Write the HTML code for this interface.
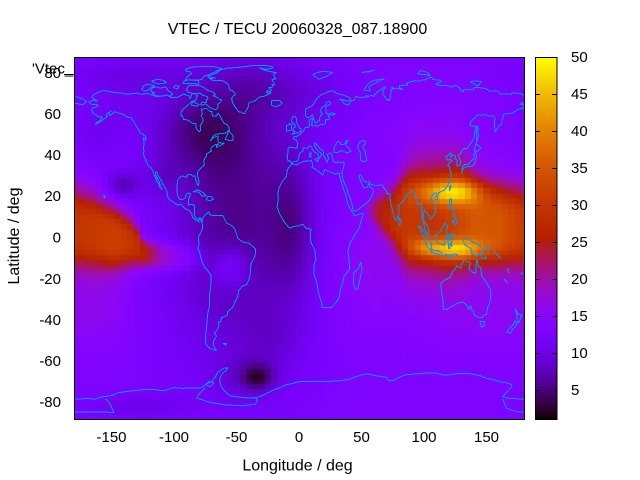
<!DOCTYPE html>
<html>
<head>
<meta charset="utf-8">
<style>
html,body{margin:0;padding:0;background:#fff;}
#wrap{position:relative;width:640px;height:480px;overflow:hidden;background:#fff;}
#c{position:absolute;left:74px;top:57px;background:rgb(110,1,235);}
svg{position:absolute;left:0;top:0;}
.cl polyline{vector-effect:non-scaling-stroke;}
text{font-family:"Liberation Sans",Arial,sans-serif;fill:#000;}
</style>
</head>
<body>
<div id="wrap">
<canvas id="c" width="451" height="363"></canvas>
<svg width="640" height="480" viewBox="0 0 640 480" xmlns="http://www.w3.org/2000/svg">
<defs>
<clipPath id="pc"><rect x="74" y="57" width="451" height="363"/></clipPath>
<linearGradient id="cb" x1="0" y1="1" x2="0" y2="0">
<stop offset="0" stop-color="rgb(0,0,0)"/>
<stop offset="0.01" stop-color="rgb(26,0,16)"/>
<stop offset="0.025" stop-color="rgb(40,0,40)"/>
<stop offset="0.05" stop-color="rgb(57,0,79)"/>
<stop offset="0.1" stop-color="rgb(81,0,150)"/>
<stop offset="0.15" stop-color="rgb(99,1,206)"/>
<stop offset="0.2" stop-color="rgb(114,2,243)"/>
<stop offset="0.25" stop-color="rgb(128,4,255)"/>
<stop offset="0.3" stop-color="rgb(140,7,243)"/>
<stop offset="0.35" stop-color="rgb(151,11,206)"/>
<stop offset="0.4" stop-color="rgb(161,16,150)"/>
<stop offset="0.45" stop-color="rgb(171,23,79)"/>
<stop offset="0.5" stop-color="rgb(180,32,0)"/>
<stop offset="0.6" stop-color="rgb(198,55,0)"/>
<stop offset="0.7" stop-color="rgb(213,87,0)"/>
<stop offset="0.8" stop-color="rgb(228,131,0)"/>
<stop offset="0.9" stop-color="rgb(242,186,0)"/>
<stop offset="1" stop-color="rgb(255,255,0)"/>
</linearGradient>
</defs>

<g clip-path="url(#pc)">
<g class="cl" transform="translate(299 237.3) scale(1.25 -2.06)" fill="none" stroke="rgb(0,150,255)" stroke-width="1" stroke-linejoin="round" shape-rendering="crispEdges">
<polyline points="-166,68.3 -163.7,69.4 -161,70.3 -156.6,71.3 -152,70.8 -148,70.3 -143,70.1 -139,69.6 -134.4,69.6 -130,70 -126,69.4 -121.5,69.8 -117,68.9 -114,68.3 -108,68.6 -106,69.2 -102,67.8 -98,67.8 -96,68.2 -94,69 -92,69.5 -88,68.6 -87,67.3 -85.5,69.9 -82.5,69.5 -81.3,68.7 -82,67.5 -83,66.2 -86,66 -87,65.2 -89,64 -92.5,62.2 -94.3,60.9 -94.6,58.9 -93.2,58.8 -92.3,57.2 -90.9,57.3 -88.1,56.5 -85,55.3 -82.3,55.1 -82.3,53.3 -81.4,52.2 -79.9,51.2 -79.1,51.5 -78.6,52.6 -79.1,54.1 -76.6,56.5 -77.3,58.1 -78.5,58.8 -77.3,60 -78.1,62.3 -73.8,62.5 -71.4,61.1 -69.6,61.1 -69.3,58.9 -68,58.8 -66.2,58.8 -65.2,59.9 -64.6,60.3 -61.4,56.9 -60,55.4 -57.3,54.6 -56,53.3 -55.7,52.1 -57.1,51.4 -59.6,50.3 -63,50.3 -66,50.2 -68.5,49.1 -71.1,46.8 -68.7,48.3 -65,49.2 -64.2,48.7 -65.1,48.1 -64.5,46.2 -61.5,45.6 -60,45.9 -61,45 -63.8,44.4 -65.7,43.5 -66.2,44.5 -64.4,45.3 -67,45 -70,43.7 -70.7,42.5 -70,41.8 -71.9,41.3 -74,40.5 -74,39.3 -75,38.8 -75.5,38 -76.3,37 -75.7,35.6 -76.5,34.6 -77.8,33.9 -79,33.2 -80.5,32.3 -81.3,31.4 -81.3,30 -80.5,28.5 -80,26.8 -80.4,25.2 -81.2,25.3 -81.8,26.7 -82.7,27.8 -82.6,28.9 -83.7,29.9 -85.1,29.7 -86.4,30.4 -88.4,30.4 -89.6,30.2 -89.4,29.2 -90.2,29.1 -92,29.6 -93.8,29.7 -94.7,29.4 -96.6,28.3 -97.4,27.4 -97.4,26 -97.7,24.3 -97.8,22.9 -97.2,20.6 -96.3,19.3 -95.9,18.8 -94.4,18.2 -92,18.7 -90.7,19.3 -90.3,20.9 -88.5,21.5 -86.8,21.3 -87.6,19.5 -88.3,18.5 -88.2,17.4 -88.6,15.7 -87.9,15.9 -85.7,15.9 -84.4,15.8 -83.5,15 -83.6,13.1 -83.5,11.6 -83.8,10.8 -83,9.9 -81.7,8.9 -81.3,8.8 -80,9.4 -79,9.6 -77.8,8.7 -77.4,8.7 -77.4,7.6 -78.5,8 -79.6,8.9 -80.5,8.2 -80,7.5 -81.7,8.1 -83,8.4 -83.7,9.1 -85.1,9.6 -85.7,10.8 -85.7,11.3 -87.7,13 -89.4,13.5 -91.2,13.9 -92.8,15 -94.4,16.1 -96.6,15.7 -98,16.1 -99.7,16.7 -101.7,17.6 -103.5,18.3 -104.7,19.2 -105.5,20.5 -105.3,21.5 -105.7,22.3 -106.9,23.9 -108.4,25.2 -109.4,26 -109.4,26.7 -110.6,27.9 -111.6,28.8 -112.8,30 -113.2,31.2 -114.8,31.8 -114.7,30.2 -113.6,28.9 -112.8,28 -111.6,26.7 -111.2,25.3 -110.7,24.3 -110,23.4 -109.4,23.2 -110.2,24 -112.2,24.7 -112.1,26 -113.5,26.8 -114.5,27.7 -114.2,28.6 -115.5,29.6 -116.7,31.6 -117.1,32.5 -118.4,33.7 -119.2,34.3 -120.6,34.6 -121.6,36.3 -122.4,37.2 -123.7,38.9 -124.4,40.3 -124.1,41.9 -124.5,42.8 -123.9,45.5 -124.1,46.9 -124.7,48.2 -123.1,48 -122.6,47.1 -122.3,48.6 -123,49 -125,50 -127.4,50.8 -128,52 -129.1,52.8 -130.5,54.3 -131.1,55.2 -132.2,56.4 -133.5,57.2 -134.1,58.1 -136.6,58.2 -137.8,58.5 -139.9,59.5 -142.6,60.1 -145.9,60.5 -147.1,60.9 -148.2,60.7 -149.7,59.7 -151.7,59.2 -151.9,60.7 -150.3,61.3 -153,60.3 -154,59.4 -153.3,58.9 -154.7,58 -156.3,57.4 -158.1,56.5 -160.3,55.6 -162.9,54.9 -161.8,55.9 -160.6,56 -158.7,57 -157.7,58.6 -159.1,58.4 -161.4,58.7 -162,59.3 -164,60 -165.3,60.5 -165.3,61.1 -166.1,61.5 -164.6,63.1 -163,63.1 -160.8,63.8 -161.5,64.4 -162.5,64.6 -164.9,64.4 -166.2,64.6 -168.1,65.7 -166.7,66.1 -164.5,66.6 -163.7,66.6 -162.2,66.1 -161.5,66.3 -163.8,67.1 -165.4,68 -166,68.3"/>
<polyline points="-73.3,78 -69.4,78.9 -65.3,80 -63,81.2 -57,82.2 -50,82.4 -44,82.8 -35,83.5 -27,83.5 -20.8,82.7 -22,82 -26,81.5 -31.7,82.2 -27,81 -20,80.1 -17.8,80.1 -20,79.3 -19.7,77.6 -18.5,76.9 -21.7,76.6 -19.4,74.3 -21.6,74.2 -20.4,73.8 -22.2,72.6 -24.3,72.6 -22,71.5 -23.5,70.5 -25.5,71.4 -25.2,70.8 -26.4,70.2 -22.3,70.1 -27.7,68.5 -31.8,68.1 -34.2,66.7 -36.4,65.9 -39.8,65.5 -40.7,64.1 -40.2,63.6 -42.8,61.1 -43.4,60.1 -44.8,60 -46.3,60.9 -48.3,60.9 -49.9,62.4 -51.6,63.6 -52.1,64.3 -53.7,66.1 -53.3,66.8 -54,67.2 -53,68.4 -51,69.1 -51.1,70 -52.6,70.6 -53.5,71.2 -55,71.4 -55.8,72.3 -56.1,73.6 -57.3,74.7 -58.6,75.1 -61.3,76.1 -63.4,76.2 -68.5,76.1 -71.4,77 -68.8,77.3 -66.8,77.4 -71,77.6 -73.3,78"/>
<polyline points="-80.1,73.7 -76.3,72.8 -73.5,71.5 -71.2,70.9 -68.8,70.5 -67.9,70.1 -66.9,69.2 -68.8,68.7 -66.4,68.1 -64.9,67.8 -63.4,66.9 -61.9,66.9 -62.2,66.2 -64,65 -65.1,64.6 -64.7,63.4 -65.3,62.7 -66.3,62 -68.9,62.3 -71,62.9 -72.2,63.4 -73.4,64.2 -74.8,64.7 -77.9,64.2 -78.6,64.6 -77.7,65.6 -73.9,65.5 -74.3,66.7 -72.7,67.3 -73.3,68.1 -74.8,68.6 -76.9,68.9 -78.2,69.8 -80.4,70 -81.3,69.7 -84.9,69.9 -88.7,70.4 -89.5,71.2 -89.9,72 -88.4,73.5 -85.8,73.8 -82.3,73.8 -80.1,73.7"/>
<polyline points="-119,71.5 -117,72.6 -114,73 -111,72.4 -106.5,73 -104.5,71 -102.7,70.5 -101.1,69.6 -103,68.5 -106,69 -108.5,68.7 -113,68.5 -116,69.2 -117.4,70 -115.2,70.2 -117.5,70.5 -119,71.5"/>
<polyline points="-125.9,71.9 -124,73.7 -120.5,74.4 -115.5,73.5 -119.2,72.5 -120.5,71.5 -123,70.9 -125.9,71.9"/>
<polyline points="-85.8,79.3 -87.2,79 -89,78.3 -90.8,76.4 -82,76.2 -78,76.6 -75.5,78.5 -72.8,78.8 -68,80 -62,82 -68,82.8 -76,83 -85,82.7 -91,81.5 -90,80.6 -87,80.3 -85.8,79.3"/>
<polyline points="-92.9,74.7 -80,74.5 -80.5,76.2 -88,76.5 -92,75.8 -92.9,74.7"/>
<polyline points="-100.4,72.7 -97,72 -96,73.4 -99,73.8 -100.4,72.7"/>
<polyline points="-113,74.4 -116,75 -117.7,76 -113,76.7 -108,76.1 -106,75 -113,74.4"/>
<polyline points="-86,64 -81,63.7 -80,64.5 -85.5,66 -86,64"/>
<polyline points="-59,47.6 -56,51.6 -53,49.5 -52.7,47 -55.5,47 -59,47.6"/>
<polyline points="-85,21.9 -81,23.1 -77,21.8 -74.2,20.2 -77.6,19.9 -80,21.8 -83,22.2 -85,21.9"/>
<polyline points="-74.5,18.3 -73,19.8 -70,19.7 -68.4,18.6 -71,17.7 -74.5,18.3"/>
<polyline points="-155.9,19 -155,19.6 -155.8,20.2 -156.1,19.7 -155.9,19"/>
<polyline points="-77.4,8.7 -75,11 -72,12.3 -71.5,11 -68,10.5 -64,10.7 -61,10.5 -58,7 -54,5.7 -51.5,4.2 -50,1.8 -49,-0.5 -44.5,-2.5 -40,-2.8 -35,-5.5 -34.8,-7.5 -35.5,-9.5 -38.5,-13 -39,-17.5 -40,-20.5 -42,-23 -45,-23.5 -48.5,-26 -48.7,-28.5 -51,-31 -53,-34 -55,-35 -57,-36 -57.5,-38 -62,-39 -62.5,-41 -65,-41 -64,-42.5 -65.5,-45 -67.5,-46.5 -66,-48 -68.5,-50.5 -68.5,-52.5 -66,-55 -71,-54 -74.5,-52 -75,-48 -74,-44 -73.5,-40 -73,-37 -71.5,-33 -71.5,-28 -70.5,-23 -70.2,-18.5 -72,-17 -76,-14 -77.5,-12 -79.5,-7.5 -81,-5.5 -80,-3 -80.5,-1 -80,1 -78.8,2 -77.3,4 -77.4,7 -77.9,7.3 -77.4,8.7"/>
<polyline points="-61,-51.5 -58,-51.5 -58.5,-52.3 -61,-51.5"/>
<polyline points="-17,21 -16,24 -13,27.5 -10,29.5 -9.5,32.5 -6,35.8 -2,35.1 3,36.8 10,37.2 11,35.2 10.5,34 15,32.2 19,30.3 20.5,32.8 25,31.7 29,30.8 32.3,31.2 32.5,29.9 33.5,27.5 35.5,23.5 37.3,21 38.5,17.5 39.5,15.5 41.5,13.5 43.3,11.8 44.5,10.4 51,11.8 51,10.5 48,4.5 44,0.5 41.5,-2 40,-4.5 39,-7 40,-10.5 40.5,-15.5 36,-19 35,-22 33,-25.5 32.5,-28.5 30,-31.5 26,-34 22,-34 18.5,-34.2 18,-31.5 15.5,-27 14.5,-22.5 12,-18 12,-13.5 13.5,-10.5 12.5,-6 9.5,-2.5 9,1.5 9.6,4 6,4.3 3,6.3 0,5.6 -4.5,5.2 -7.5,4.4 -11,6.8 -13.5,9 -15.5,11.5 -16.8,13.5 -17.5,14.7 -16.5,19 -17,21"/>
<polyline points="49.3,-12 50.5,-15.5 47,-25 45,-25.3 43.5,-22 44,-17 47,-15.5 49.3,-12"/>
<polyline points="180,68.9 178.8,69.4 175.7,69.9 170.5,70.1 169.6,69.4 166,69.5 160.9,69.6 159.7,70.8 156.5,71.1 152.9,70.8 149.5,72.2 143.5,72.7 140.5,72.8 139.1,71.5 136,71.7 132.2,71.8 131.3,70.8 129.7,71.2 128.5,72.8 126.4,73.3 124.8,73.7 122.3,73 118.8,73.6 113.9,73.6 112.7,73.8 109.4,74.2 110.6,74.7 113,75.4 113.9,75.8 112.8,76.3 107,76.6 106.6,77.4 104.7,77.7 100.8,76.4 98.9,76.4 96.7,75.9 93.2,76 90.3,75.6 87.2,75.1 86,74.5 86.8,73.9 80.5,73.6 80.6,72.6 83.1,71.7 81.5,71.8 78.9,72.4 77.6,72.3 75.9,71.9 75.7,72.3 75.3,72.9 74.3,72.8 74.9,72.1 73.1,71.4 74,70.8 73.6,69.6 72.6,68.7 73.6,68 72.2,66.5 71.4,66.3 72.4,67 69.9,66.7 69.3,67.8 66.8,69.5 67.7,70.8 66.9,71.4 68.5,72.1 69.2,73 68,73 66,71.9 64,71 61.2,69.7 60,68.4 58,68.9 55.4,68.4 53.7,68.9 54.5,68.2 53.5,68.2 48.5,67.8 45.5,68.5 44,66.3 42,66.5 40.5,65.5 40,64.5 37.8,64.3 36.5,64.8 34.9,65.4 34.2,66.6 32.5,66.9 34.8,66.8 38.4,66.1 41.1,66.8 41,67.5 38.4,68.4 34.9,69.2 33,69.4 30,69.8 28.5,70.7 25.7,71.1 23.2,70.6 21,69.8 18.5,69.5 16.5,68.6 14.8,67.8 13.5,66.5 12.5,65.5 11,64.3 10,63.5 8,63.2 5.5,62.3 5,61 5,60 5.6,58.8 6.5,58.1 8.4,58.3 10.2,59 10.5,59.7 11,58.9 11.5,58 12.6,56.3 12.9,55.4 14.1,55.4 14.7,56.2 16.4,56.6 16.5,57.5 16.8,58.7 18.8,59.8 17.7,60.6 17.3,61.6 17.9,62.7 19.8,63.6 21.5,64.4 22.2,65.7 24.5,65.9 25.4,65.1 25.3,64.9 21.2,63.2 21.5,62.2 21.5,60.7 22.9,59.8 26.2,60.4 29.1,60 28.1,59.3 26.9,59.4 23.3,59.2 23.5,58.6 24.6,58.3 24.4,57.5 23.3,57 21.6,57.4 21,56.8 21.1,56 21.3,55.2 19.9,54.9 18.6,54.7 17.6,54.9 15.9,54.3 14.1,53.8 12.9,54.3 11,54 10.9,54.4 9.9,54.6 10.5,55.6 10.3,56.6 10.9,57.1 10.6,57.7 9.6,57.5 8.6,57.1 8.1,56.5 8.2,55.5 8.6,54 7,53.4 5,53.3 4.2,52.3 3.3,51.4 1.6,50.9 1.6,50.1 0.2,49.7 -1.2,49.4 -1.9,48.7 -3.3,48.9 -4.6,48.7 -4.4,47.9 -3,47.4 -2,47 -1.2,46 -1.2,44.5 -1.6,43.4 -3.8,43.4 -7.8,43.8 -9,43 -8.9,41 -9.5,39 -8.8,37 -7.4,37.2 -6,36.4 -5.4,36 -4.4,36.7 -2.1,36.7 -0.7,37.6 0.1,38.7 -0.3,39.3 0.9,41 3.2,41.9 3,43.3 4.6,43.4 6.5,43.1 7.5,43.8 8.9,44.4 10.2,43.9 10.5,42.9 12.6,41.3 14,40.8 15.7,40 15.7,38 16.5,38.5 17.2,39.4 18.5,40.2 17.5,40.8 16,41.5 14,42.8 12.3,44.5 12.4,45.4 13.6,45.8 13.9,44.9 15,44.8 16,43.5 19.4,41.9 19.4,40.3 20.3,39.3 21.1,38.3 21.9,36.8 22.5,36.4 23.2,37.9 24,38.2 22.8,39.5 22.6,40.3 23.9,40.5 24.4,40.9 26,40.8 26.4,40.1 26.1,39.5 27,38.5 27.3,37.2 28,36.7 29.7,36.1 30.6,36.7 31.7,36.6 34,36.2 36.2,36.6 36,35 35.5,33.9 35,32.7 34.3,31.2 34.9,29.5 35,28.2 36.5,26 38.5,23.5 39.5,21 41,19 42.5,16 43.2,13.2 45,12.8 48.5,14 52,15.8 55,17 56.8,18.5 57.8,19.5 58.8,21 59.8,22.5 58.5,23.6 56.4,24.9 56.3,26.3 55.5,25.6 54.5,24.2 52,24 51.5,24.6 50.2,25.8 50,26.7 48.5,28.5 48,30 49,30.3 50.5,29.3 51.4,27.9 53.5,26.7 56,27 57.3,25.8 59.5,25.4 61.6,25.2 64.5,25.3 66.6,25.4 67.3,24.5 68.5,23.5 70,22.5 70.5,21 72.6,21.3 72.8,19 73.4,16.5 74.5,14 74.8,12.8 75.8,11 76.5,8.8 77.5,8.1 78.2,8.9 79.3,10.3 79.8,11.5 80.2,13.5 80.1,15.2 81.2,16.4 82.3,17 84.2,18.3 86,19.9 87,21.5 88.3,21.7 89.5,21.9 90.6,22.5 91.8,22.3 92.3,20.7 93.5,19.4 94.3,18.2 94.4,16.2 95.4,15.8 97,16.5 97.7,16.3 98.2,13.2 98.5,10.5 98.3,8.2 100,6.4 100.4,5 101.3,2.9 103.5,1.3 104.2,1.4 103.4,4 103.3,5.3 102.1,6.2 101,6.9 100.3,7.4 99.2,9.2 99.2,10.4 100,12.5 100.1,13.4 101,12.7 102.6,12.2 103,11 104.5,10.5 105,8.6 106.5,9.6 107.3,10.5 109,11.4 109.3,13.5 108.9,15.3 107.4,16.7 105.7,18.7 106.4,20 108,21.5 109.7,21.5 110.2,20.7 111.5,21.5 113.6,22.2 114.6,22.6 116.5,22.9 118.2,24.6 119.6,25.7 120.5,27.2 121.7,28.8 121.7,30.3 121.3,30.8 121.9,31.7 120.8,32.5 120.3,34.3 119.2,34.9 120.3,36.3 122.5,36.9 121,37.8 118.9,37.4 117.6,38.7 118,39.2 119.6,39.9 121,40.8 122.2,40.4 121.3,39 122.1,39.5 124.3,39.9 125.3,39.5 124.7,38.1 126.2,37.7 126.4,34.5 127.4,34.7 129.2,35.2 129.5,36.8 128.3,38.6 127.5,39.8 129.6,40.9 129.8,41.3 130.7,42.3 132.3,43.3 133.9,42.8 135.5,43.9 137.2,45.4 138.2,46.4 140.1,48.4 140.5,50.1 140.6,51.3 141.4,52.2 141.4,53.1 139.9,54.2 137.2,54 136.7,54.6 137.7,56.4 140.5,57.8 142.2,59 143.6,59.4 146.5,59.2 149,59.6 151.3,58.8 152.8,58.9 155,59.1 156.7,57.8 156.5,55 156.7,51 158.3,52.2 160,54.2 162.1,54.9 162.5,57 163.2,57.6 163.1,59.3 165.8,60.2 170.3,60 172.3,61 174.6,61.8 177.4,62.5 179.2,62.3 179.5,64.5 177,64.6 178.3,65.4 180,65"/>
<polyline points="-180,68.9 -175,67.5 -171,66.5 -170,65.8 -173,64.3 -178,65 -180,65"/>
<polyline points="28,41.2 28,43.5 29.7,45.3 31,46.6 33.5,46 33,45 35.5,45 36.5,45.3 38,47 39.3,47 38,46 37.5,44.5 40,43.3 41.6,41.6 38,41 35,42 33,41.9 31,41.1 28,41.2"/>
<polyline points="49,46.5 51.5,47 53,46.5 53,45 51,44.5 51.5,43 53,42 53,40.5 54,38 53.8,37 51,36.8 49,37.5 49.5,40.3 48.5,41.8 47.5,43 47,44.5 49,46.5"/>
<polyline points="-5,58.6 -3,58.6 -2,57.6 -1.8,55.6 -0.2,54 0.3,53 1.7,52.7 1.4,51.3 -1,50.8 -5.5,50 -3,51.4 -5,51.7 -4,53.3 -3,53.4 -3.3,54.9 -5,55 -6,56.5 -5,58.6"/>
<polyline points="-6,52 -6,54.5 -7.5,55.2 -10,54 -10.2,51.6 -6,52"/>
<polyline points="-22,64 -22,66.3 -16,66.5 -13.5,65.2 -15,64.2 -19,63.4 -22,64"/>
<polyline points="12.5,38 15.6,38.3 15,36.7 12.5,38"/>
<polyline points="8.4,41 9.8,41 9.6,39 8.5,39 8.4,41"/>
<polyline points="11,79 14,79.8 18,80.5 22,80.4 27,80 22,78.2 16,76.7 13,78 11,79"/>
<polyline points="52,71.5 54,73.5 56,75 60,76.2 68,76.9 63,75.5 56,73.2 57,71 52,71.5"/>
<polyline points="50,80 60,81 55,80.3 50,80"/>
<polyline points="95,79.3 100,79 105,78.5 103,80 97,81 95,79.3"/>
<polyline points="137,75.5 142,76 146,75.5 143,73.5 137,75.5"/>
<polyline points="130,31 131.5,33.5 135,34.5 136.8,34.3 139.8,35 141,37 142,39.5 141.3,41.3 140,40.5 139.8,38 137,36.8 135.8,35.5 132.5,35.3 130.8,34 130,31"/>
<polyline points="140,42 141.5,45.5 145.5,43.5 143.3,42 140,42"/>
<polyline points="142,46 143.5,49 143,54 142.2,54 142,46"/>
<polyline points="120.3,22.5 121.8,25 121,25.2 120.2,23.5 120.3,22.5"/>
<polyline points="108.7,18.5 110.5,18.3 111,19.8 110,20.2 108.7,19.2 108.7,18.5"/>
<polyline points="80,9.8 81.8,7.5 81.3,6.2 80,6 79.8,8 80,9.8"/>
<polyline points="120,14.5 120.5,18.5 122.2,18.5 122,16 124,13 121.5,13.8 120,14.5"/>
<polyline points="122,7 125.5,9.5 126.5,7 125.5,5.8 123.5,7.8 122,7"/>
<polyline points="123,10 124,11.5 125,10 123,10"/>
<polyline points="109,1.5 110.5,1.8 113,3 115.5,5.3 117,7 119,5 118,4.3 118.5,1 117.5,0 116.5,-2 116,-4 114.5,-3.5 111.5,-3 110,-2 109,0 109,1.5"/>
<polyline points="95.3,5.6 97.5,5.2 100,2.5 103.8,-1 106,-3 105.8,-5.8 104.5,-5.8 102,-4 100.2,-0.5 98.6,1.8 95.3,5.6"/>
<polyline points="105.5,-6.5 106,-5.9 108.5,-6.5 111,-6.4 114.5,-7.7 114.4,-8.7 110,-8.1 106,-7.3 105.5,-6.5"/>
<polyline points="119.5,-5.5 119.5,-3.5 119,-1 120,0.8 121,1.3 124.5,1.6 124.8,1 122,0.4 120.5,0 120.8,-1.5 121.8,-1 123.3,-1 122,-2.5 122.3,-4.5 121,-3 120.5,-5.5 119.5,-5.5"/>
<polyline points="116,-8.5 119,-8.4 121,-8.6 125,-8 127,-8.3 124,-10.2 120,-9.5 116,-8.5"/>
<polyline points="131,-1 134,-0.8 137,-1.5 140,-2.5 144.5,-3.8 146,-5.3 147.5,-6.2 148,-8 150,-10.3 147,-10.2 144,-7.7 143,-9 141,-9.1 139,-8.1 138,-8.4 137.5,-5.5 135,-4.4 133,-4 132,-2.8 131,-1"/>
<polyline points="150,-5.5 152,-4 152.5,-5 151,-6 150,-5.5"/>
<polyline points="155,-6 157,-7.5 160,-9.3 161.5,-10.5"/>
<polyline points="164,-20.3 166,-21.5 167,-22.3"/>
<polyline points="167,-15 167.5,-16.5 168.3,-17.5"/>
<polyline points="177.2,-17.5 178.5,-17.3 178.3,-18.2"/>
<polyline points="113.5,-22 114,-26 115,-30 115,-33.5 116,-35 118,-35 121.5,-33.8 124,-33 126,-32.3 129,-31.6 131,-31.5 134,-32.8 135.7,-34.8 137.8,-33 137.5,-35 139.5,-35.8 140.5,-38 143.5,-38.8 146.3,-39 148,-37.8 150,-37.5 151,-34 152.5,-32 153.5,-28.5 153,-25 151,-23 149,-21 146.3,-19 145.3,-15 143.5,-14 142.5,-10.7 141.5,-13 141.6,-16.8 140.8,-17.5 139,-17 136,-15.5 137,-12.2 136,-12 133,-11.5 132,-11.3 130,-13 129.5,-15 127.8,-14.5 126,-14 125,-15.5 123,-16.5 122,-18 121,-19.5 119,-20 117,-20.6 114.5,-21.8 113.5,-22"/>
<polyline points="144.7,-40.7 148.3,-40.9 148,-43.2 146,-43.6 144.7,-40.7"/>
<polyline points="172.7,-34.5 174.5,-36.5 175.5,-37.5 178.5,-37.7 177,-39.5 176,-41.5 174.7,-41.3 175,-39.8 174,-39 174.5,-37.5 172.7,-34.5"/>
<polyline points="172.7,-40.5 174.3,-41.8 173,-43.5 171,-44.5 169,-46.6 166.5,-46 167.8,-44.5 170.5,-43 172,-41.5 172.7,-40.5"/>
<polyline points="-180,-78.5 -170,-78.3 -163,-78.5 -158,-77.5 -152,-77 -148,-76.5 -145,-75.5 -138,-74.8 -130,-74.3 -122,-73.8 -115,-74 -108,-74.5 -100,-73 -93,-73.3 -85,-73.2 -78,-73 -75,-71.5 -70,-70 -67,-68 -65,-65.5 -60,-63.5 -57,-63.3 -58,-64.5 -61,-66 -63,-68 -63.5,-70 -62,-72.5 -60,-74.5 -55,-77 -50,-77.5 -40,-78 -35,-78 -30,-77 -25,-75.5 -20,-74 -15,-73 -10,-71.5 -5,-71 0,-70 10,-70 20,-70 30,-69.8 35,-69.5 40,-69 45,-67.8 50,-66.8 55,-66.3 60,-67 65,-67.5 70,-68 72,-69.5 75,-69.5 78,-68.5 85,-66.8 90,-66.5 100,-66 105,-65.8 110,-66 115,-66.8 120,-66.8 125,-66.3 130,-66 135,-66 140,-66.6 145,-67.2 150,-68.5 155,-69 160,-70 165,-70.5 170,-71.5 170.5,-72.5 168,-74 165,-76 163,-77.5 166,-78 170,-78.3 175,-78.4 180,-78.5"/>
<polyline points="-180,-84.8 -160,-84.8 -148,-85 -152,-80 -155,-78.5"/>
<polyline points="163,-78.5 166,-83 175,-84.8 180,-84.8"/>
<polyline points="-75,-73 -80,-76 -82,-78 -72,-80 -60,-81.3 -45,-81.8 -35,-81 -33,-79 -36,-77.5"/>
<polyline points="-68,-70.5 -72,-70 -75,-71.5 -71,-72.5 -68,-70.5"/>
</g>
</g>

<rect x="74.5" y="57.5" width="450" height="362" fill="none" stroke="#000" stroke-width="1"/>

<rect x="535.5" y="57.5" width="21.5" height="362" fill="url(#cb)" stroke="#000" stroke-width="1"/>
<g stroke="#000" stroke-width="1">
<line x1="535" y1="390.5" x2="540" y2="390.5"/><line x1="552" y1="390.5" x2="557" y2="390.5"/>
<line x1="535" y1="353.5" x2="540" y2="353.5"/><line x1="552" y1="353.5" x2="557" y2="353.5"/>
<line x1="535" y1="316.5" x2="540" y2="316.5"/><line x1="552" y1="316.5" x2="557" y2="316.5"/>
<line x1="535" y1="279.5" x2="540" y2="279.5"/><line x1="552" y1="279.5" x2="557" y2="279.5"/>
<line x1="535" y1="242.5" x2="540" y2="242.5"/><line x1="552" y1="242.5" x2="557" y2="242.5"/>
<line x1="535" y1="205.5" x2="540" y2="205.5"/><line x1="552" y1="205.5" x2="557" y2="205.5"/>
<line x1="535" y1="168.5" x2="540" y2="168.5"/><line x1="552" y1="168.5" x2="557" y2="168.5"/>
<line x1="535" y1="131.5" x2="540" y2="131.5"/><line x1="552" y1="131.5" x2="557" y2="131.5"/>
<line x1="535" y1="94.5" x2="540" y2="94.5"/><line x1="552" y1="94.5" x2="557" y2="94.5"/>
</g>
<g font-size="15" text-anchor="start">
<text x="571" y="395">5</text>
<text x="571" y="358">10</text>
<text x="571" y="321">15</text>
<text x="571" y="284">20</text>
<text x="571" y="247">25</text>
<text x="571" y="210">30</text>
<text x="571" y="173">35</text>
<text x="571" y="136">40</text>
<text x="571" y="99">45</text>
<text x="571" y="62">50</text>
</g>

<g font-size="15" text-anchor="end">
<text x="61" y="78">80</text>
<text x="61" y="119">60</text>
<text x="61" y="160">40</text>
<text x="61" y="201">20</text>
<text x="61" y="242.5">0</text>
<text x="61" y="284">-20</text>
<text x="61" y="325">-40</text>
<text x="61" y="366">-60</text>
<text x="61" y="407">-80</text>
</g>
<text x="32" y="73.5" font-size="15">'Vtec_</text>
<line x1="64" y1="74.5" x2="74" y2="74.5" stroke="#000" stroke-width="1"/>

<g font-size="15" text-anchor="middle">
<text x="111.5" y="442">-150</text>
<text x="174" y="442">-100</text>
<text x="236.5" y="442">-50</text>
<text x="299" y="442">0</text>
<text x="361.5" y="442">50</text>
<text x="424" y="442">100</text>
<text x="486.5" y="442">150</text>
</g>

<text x="297.5" y="34" font-size="16" text-anchor="middle">VTEC / TECU 20060328_087.18900</text>
<text x="297.5" y="470.5" font-size="16" text-anchor="middle">Longitude / deg</text>
<text transform="translate(19 236) rotate(-90)" font-size="16" text-anchor="middle">Latitude / deg</text>
</svg>
</div>
<script>
(function(){
var cv=document.getElementById('c');
if(!cv.getContext)return;
var ctx=cv.getContext('2d');
function interp(t,x){
 if(x<=t[0][0])return t[0][1];
 if(x>=t[t.length-1][0])return t[t.length-1][1];
 for(var i=0;i<t.length-1;i++){
  if(x<=t[i+1][0]){var f=(x-t[i][0])/(t[i+1][0]-t[i][0]);return t[i][1]+f*(t[i+1][1]-t[i][1]);}
 }
 return 0;
}
var C=[[58,13],[61,13],[76,10],[87,9.7],[100,10],[113,9],[127,10],[140,7.4],[153,5.5],[180,4.5],[196,2.5],[212,-0.5],[228,-3],[236,-8],[250,-9],[268,-9.5],[285,-10]];
var H=[[55,4],[61,6.5],[76,13],[87,23],[100,26],[113,27],[127,26],[140,20],[153,18],[180,18],[196,16.5],[212,14],[228,10],[236,6],[250,6],[268,6],[285,5]];
var A=[[52,0],[61,9],[76,15],[90,17],[105,16],[120,18],[140,22],[160,22],[175,19],[185,17],[200,18],[212,19],[228,17.5],[236,14],[250,8],[268,5],[290,0]];
var bumps=[
[-50,10,55,70,-7.5],
[-80,52,38,20,-5],
[-5,5,18,35,-4],
[-20,-50,25,15,-2],
[-33,-68,12,6,-6],
[-40,-68,25,10,-3],
[-142,25,14,7,-6],
[-110,30,15,10,-2],
[-140,78,50,10,-3],
[-130,-82,40,6,-3],
[-160,-35,25,20,2.5],
[-55,-15,15,10,5],
[60,-15,30,28,3],
[150,-40,35,15,2],
[20,70,30,15,-2],
[80,50,30,10,1],
[-30,72,35,15,-3],
[-165,45,20,15,-2],
[-150,60,30,12,-1.5],
[120,22,25,6,18],
[124,-6,22,5,18],
[100,-5,12,5,8]
];
function val(lon,lat){
 var v=13;
 var L=lon<0?lon+360:lon;
 if(L>=52&&L<=290){
  var a=interp(A,L),c=interp(C,L),h=interp(H,L);
  var u=(lat-c)/h;var u2=u*u;
  v+=a/(1+u2*u2);
 }
 for(var i=0;i<bumps.length;i++){
  var b=bumps[i];
  var dl=lon-b[0];dl=((dl+540)%360)-180;
  var dx=dl/b[2],dy=(lat-b[1])/b[3];
  v+=b[4]*Math.exp(-(dx*dx+dy*dy));
 }
 return v;
}
function col(v){
 var x=(v-1)/49;if(x<0)x=0;if(x>1)x=1;
 var r=Math.sqrt(x),g=x*x*x,b=Math.sin(2*Math.PI*x);if(b<0)b=0;
 return 'rgb('+Math.round(r*255)+','+Math.round(g*255)+','+Math.round(b*255)+')';
}
for(var lon=-180;lon<=180;lon+=5){
 var x0=Math.round(225+1.25*(lon-2.5)),x1=Math.round(225+1.25*(lon+2.5));
 for(var lat=-87.5;lat<=87.51;lat+=2.5){
  var y0=Math.round(180.3-2.06*(lat+1.25)),y1=Math.round(180.3-2.06*(lat-1.25));
  if(lat<-87)y1=363;
  ctx.fillStyle=col(val(lon,lat));
  ctx.fillRect(x0,y0,x1-x0,y1-y0);
 }
}
})();
</script>
</body>
</html>
